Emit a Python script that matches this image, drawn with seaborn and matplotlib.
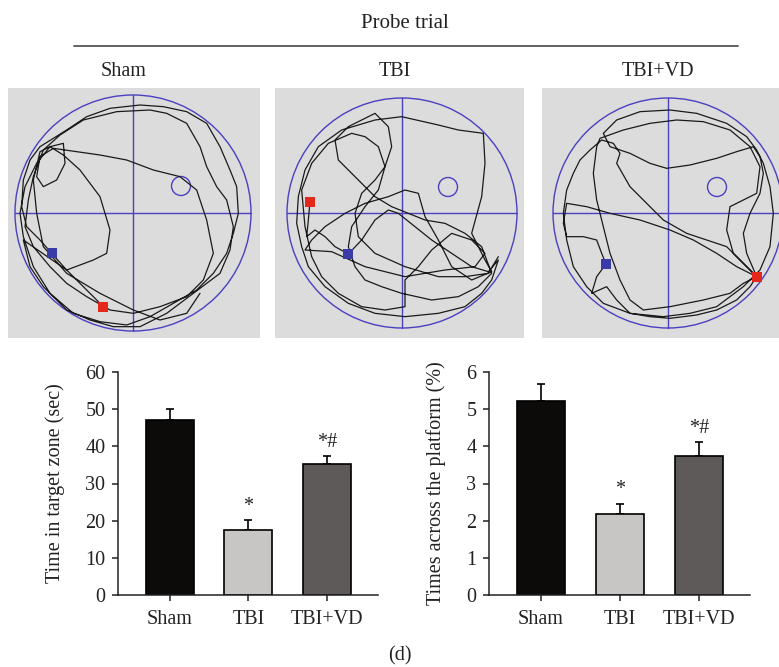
import numpy as np
import pandas as pd
import matplotlib
matplotlib.use("Agg")
import matplotlib.pyplot as plt
import seaborn as sns
from matplotlib.patches import Circle
from matplotlib.lines import Line2D

# ---------------- data ----------------
groups = ["Sham", "TBI", "TBI+VD"]
time_mean = [47.0, 17.5, 35.2]
time_err = [3.0, 2.6, 2.1]
cross_mean = [5.22, 2.18, 3.75]
cross_err = [0.45, 0.28, 0.37]
sig_labels = ["", "*", "*#"]
bar_colors = ["#0d0b09", "#c9c6c4", "#5f5a58"]
time_ticks = [0, 10, 20, 30, 40, 50, 60]
cross_ticks = [0, 1, 2, 3, 4, 5, 6]

maze_titles = ["Sham", "TBI", "TBI+VD"]

# swim tracks (traced from the recordings, in image-trace units)
track_sham = [(310,680),(250,620),(200,570),(155,520),(120,480),(80,440),(65,380),(70,300),(90,240),(120,200),(160,175),
    (200,150),(260,110),(330,85),(420,75),(490,80),(560,95),(620,130),(660,200),(690,270),(710,320),(715,400),(700,460),
    (680,520),(640,580),(590,630),(520,670),(450,710),(380,735),(300,725),(220,700),(150,640),(100,560),(70,470),(60,400),
    (75,320),(110,250),(150,200),(190,190),(195,250),(170,300),(130,320),(110,290),(120,230),(160,205),(230,215),(300,225),
    (380,240),(460,270),(540,290),(590,330),(620,420),(640,520),(610,600),(560,650),(480,680),(400,700),(330,690),(260,650),
    (200,610),(150,560),(100,500),(75,440),(85,360),(100,290),(130,210),(180,165),(250,120),(350,95),(450,90),(500,100),
    (560,130),(600,200),(620,260),(650,320),(680,360),(700,440),(690,510),(660,580),(580,640),(500,700),(420,740),(340,740),
    (270,720),(200,690),(130,620),(90,560),(70,480),(200,570),(280,540),(320,520),(330,450),(300,350),(240,270),(190,225),
    (150,200),(120,215),(100,300),(110,400),(130,500),(200,580),(300,640),(400,690),(480,720),(560,700),(600,640)]
track_tbi = [(135,365),(130,420),(125,470),(150,450),(180,470),(210,500),(250,522),(290,480),(330,420),(370,390),(400,400),
    (450,440),(500,480),(560,520),(620,560),(670,575),(700,540),(680,600),(650,640),(600,680),(520,700),(420,710),(330,700),
    (250,670),(180,620),(130,560),(110,500),(95,430),(100,350),(120,270),(160,200),(230,150),(330,120),(410,110),(520,135),
    (580,150),(655,160),(660,250),(650,350),(620,460),(660,540),(680,575),(620,600),(560,560),(520,480),(480,410),(460,340),
    (420,330),(370,350),(300,370),(240,400),(180,440),(140,480),(120,510),(200,515),(300,560),(420,590),(540,570),(630,560),
    (660,520),(620,480),(560,460),(500,510),(460,560),(420,600),(420,680),(360,690),(290,680),(220,640),(170,590),(140,530),
    (120,440),(110,330),(140,250),(190,190),(260,160),(300,170),(340,200),(360,260),(340,330),(300,380),(260,440),(250,500),
    (270,560),(300,600),(350,620),(410,640),(500,660),(580,650),(640,620),(680,580),(650,500),(600,460),(540,430),(480,420),
    (430,400),(380,380),(330,350),(270,290),(220,240),(210,180),(250,140),(330,100),(370,140),(380,200),(360,260),(330,300),
    (290,340),(270,400),(280,470),(330,520),(420,560),(520,590),(600,590),(670,580),(700,530)]
track_vd = [(680,590),(640,610),(600,640),(520,660),(420,680),(340,690),(300,660),(270,600),(240,520),(220,440),(200,360),
    (190,280),(200,200),(210,175),(280,150),(360,130),(440,120),(520,125),(600,150),(660,200),(690,260),(680,340),(640,360),
    (600,380),(590,450),(610,520),(660,570),(680,590),(620,560),(560,520),(490,480),(420,450),(330,420),(240,400),(170,380),
    (110,370),(100,430),(110,470),(160,470),(200,480),(215,520),(228,552),(200,590),(185,640),(230,620),(260,660),(300,700),
    (360,710),(420,715),(500,705),(560,690),(620,660),(660,620),(680,590),(650,560),(590,500),(470,460),(400,420),(360,380),
    (300,320),(260,250),(270,220),(250,190),(215,180),(180,210),(150,240),(130,280),(110,330),(100,400),(110,480),(130,560),
    (170,620),(220,670),(300,700),(400,710),(480,700),(560,680),(640,620),(690,570),(720,500),(730,400),(720,320),(700,250),
    (680,210),(650,170),(590,130),(500,100),(420,90),(330,95),(260,120),(220,160),(240,200),(300,220),(360,250),(410,265),
    (480,255),(560,235),(620,215),(670,200),(690,230),(700,280),(690,340),(660,400),(640,460),(650,520),(680,590)]
tracks = [track_sham, track_tbi, track_vd]
trace_origin = [(0, 80), (265, 80), (530, 80)]
pool_center = [(133, 213), (402, 213), (668, 213)]
pool_radius = [118, 115, 115]
platform_center = [(181, 186), (448, 187), (717, 187)]
start_point = [(103, 307), (310, 202), (757, 277)]
end_point = [(52, 253), (348, 254), (606, 264)]
panel_box = [(8, 260), (275, 524), (542, 779)]

W, H = 779, 667
FS = 14.5
sns.set_theme(style="ticks")
plt.rcParams["font.family"] = ["Liberation Serif", "DejaVu Serif"]
fig = plt.figure(figsize=(W / 100, H / 100), dpi=100)
fig.patch.set_facecolor("white")

def fax(x0, x1, ytop, ybot):
    return fig.add_axes([x0 / W, 1 - ybot / H, (x1 - x0) / W, (ybot - ytop) / H])

# header
fig.text(405 / W, 1 - 23 / H, "Probe trial", ha="center", va="center", fontsize=15, color="#222222")
fig.add_artist(Line2D([74 / W, 738 / W], [1 - 46 / H, 1 - 46 / H], transform=fig.transFigure,
                      color="#555555", lw=1.3))
title_x = [124, 395, 658]

blue = "#4a40c0"
for i in range(3):
    x0, x1 = panel_box[i]
    ax = fax(x0, x1, 88, 338)
    ax.set_facecolor("#dcdcdc")
    ax.set_xlim(x0, x1)
    ax.set_ylim(338, 88)
    ax.set_xticks([]); ax.set_yticks([])
    for s in ax.spines.values():
        s.set_visible(False)
    cx, cy = pool_center[i]
    r = pool_radius[i]
    ax.add_patch(Circle((cx, cy), r, fill=False, ec=blue, lw=1.0, zorder=2))
    ax.plot([cx - r, cx + r], [cy, cy], color=blue, lw=1.0, zorder=2)
    ax.plot([cx, cx], [cy - r, cy + r], color=blue, lw=1.0, zorder=2)
    ax.add_patch(Circle(platform_center[i], 9.5, fill=False, ec=blue, lw=1.0, zorder=2))
    ox, oy = trace_origin[i]
    tr = np.array(tracks[i], dtype=float)
    ax.plot(ox + tr[:, 0] / 3, oy + tr[:, 1] / 3, color="#1a1a1a", lw=0.9, zorder=3)
    ax.scatter([end_point[i][0]], [end_point[i][1]], marker="s", s=60, color="#3b3ba8", zorder=4, linewidths=0)
    ax.scatter([start_point[i][0]], [start_point[i][1]], marker="s", s=60, color="#e4291c", zorder=4, linewidths=0)
    fig.text(title_x[i] / W, 1 - 72 / H, maze_titles[i], ha="center", va="center", fontsize=FS, color="#222222")

def bar_panel(ax, means, errs, ticks, ylabel, labx):
    df = pd.DataFrame({"group": groups, "value": means})
    sns.barplot(data=df, x="group", y="value", hue="group", order=groups, hue_order=groups,
                palette=bar_colors, width=0.61, edgecolor="black", linewidth=1.2,
                errorbar=None, legend=False, ax=ax, zorder=2)
    ax.errorbar(range(3), means, yerr=[[0, 0, 0], errs], fmt="none", ecolor="black",
                elinewidth=1.2, capsize=2.7, capthick=1.2, zorder=1)
    for k, lab in enumerate(sig_labels):
        if lab:
            ax.annotate(lab, (k, means[k] + errs[k]), xytext=(0, 3), textcoords="offset points",
                        ha="center", va="bottom", fontsize=FS, color="#222222")
    ax.set_xlim(-0.66, 2.65)
    ax.set_ylim(0, ticks[-1])
    ax.set_yticks(ticks)
    ax.set_xlabel("")
    ax.set_ylabel(ylabel, fontsize=FS, color="#222222")
    ax.yaxis.set_label_coords(labx, 0.5)
    ax.set_facecolor("white")
    sns.despine(ax=ax)
    for s in ["left", "bottom"]:
        ax.spines[s].set_linewidth(1.1)
        ax.spines[s].set_color("#222222")
    ax.tick_params(axis="both", labelsize=FS, colors="#222222", length=4, width=1.1)
    ax.tick_params(axis="x", pad=7)
    ax.tick_params(axis="y", pad=5)

ax1 = fax(118, 378, 372, 595)
bar_panel(ax1, time_mean, time_err, time_ticks, "Time in target zone (sec)", -0.205)
ax2 = fax(489, 750, 372, 595)
bar_panel(ax2, cross_mean, cross_err, cross_ticks, "Times across the platform (%)", -0.165)

fig.text(400 / W, 1 - 656 / H, "(d)", ha="center", va="center", fontsize=FS, color="#222222")

fig.savefig("out.png", dpi=100, facecolor="white")
